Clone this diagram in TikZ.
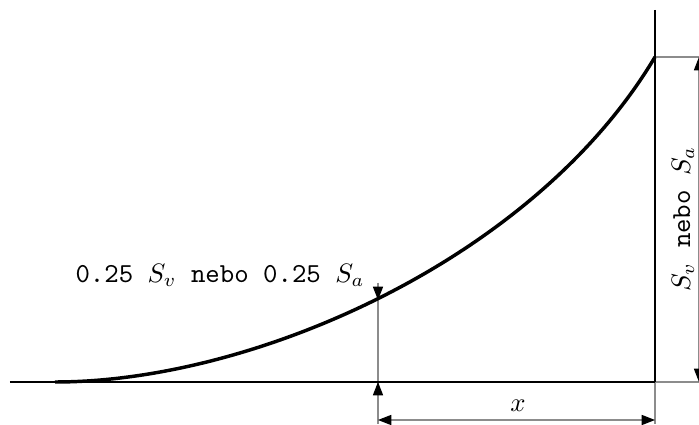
\documentclass[tikz,border=0pt]{standalone}
\usetikzlibrary{arrows.meta}
\begin{document}
\begin{tikzpicture}[x=0.375pt,y=-0.375pt,
  axisline/.style={line width=0.75pt},
  curveline/.style={line width=1.3pt},
  thinline/.style={draw=black!45,line width=0.4pt},
  dimarrow/.style={thinline,-{Triangle[length=5pt,width=3.8pt,color=black]}},
  lbl/.style={inner sep=0pt,font=\fontsize{10.3}{12}\selectfont}]
\useasboundingbox (0,0) rectangle (699,425);
% coordinates
\coordinate (L) at (10,382);
\coordinate (O) at (655,382);
\coordinate (T) at (655,10);
\coordinate (S) at (55,382);
\coordinate (E) at (655,57);
\coordinate (P) at (378,300);
\coordinate (PT) at (378,283);
\coordinate (B) at (378,382);
\coordinate (BB) at (378,424);
\coordinate (OB) at (655,424);
\coordinate (D1) at (378,420);
\coordinate (D2) at (655,420);
\coordinate (RE) at (712,57);
\coordinate (RB) at (712,382);
\coordinate (R1) at (699,57);
\coordinate (R2) at (699,382);
\coordinate (RM) at (699,220);
\coordinate (DM) at (516,420);
% thin extension lines
\draw[thinline] (O) -- (OB);
\draw[thinline] (PT) -- (BB);
\draw[thinline] (E) -- (RE);
\draw[thinline] (O) -- (RB);
% main lines
\draw[axisline] (L) -- (O);
\draw[axisline] (T) -- (O);
% curve
\draw[curveline] (S) .. controls (255,382) and (535,258.6) .. (E);
% arrows at the curve point
\draw[dimarrow] (PT) -- (P);
\draw[dimarrow] (BB) -- (B);
% bottom dimension
\draw[dimarrow] (DM) -- (D1);
\draw[dimarrow] (DM) -- (D2);
% right dimension
\draw[dimarrow] (RM) -- (R1);
\draw[dimarrow] (RM) -- (R2);
% labels
\node[lbl,anchor=base west] (lab1) at (75,283) {\texttt{0.25 }$S_v$\texttt{ nebo 0.25 }$S_a$};
\node[lbl] (labx) at (518,406) {$x$};
\node[lbl,rotate=90] (lab2) at (683,219) {$S_v$\texttt{ nebo }$S_a$};
\end{tikzpicture}
\end{document}
